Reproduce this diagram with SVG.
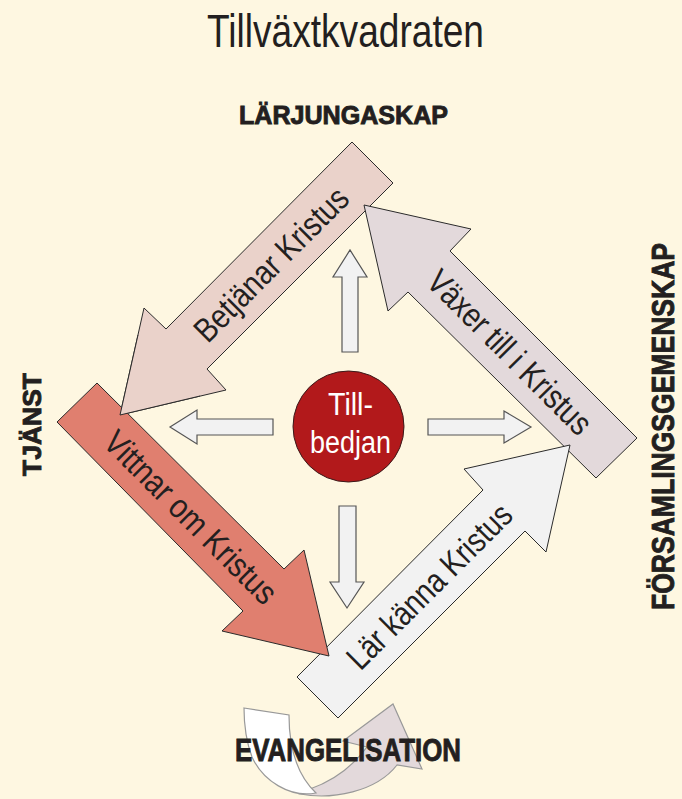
<svg xmlns="http://www.w3.org/2000/svg" width="682" height="799" viewBox="0 0 682 799">
<style>
.big{stroke:#2b2b2b;stroke-width:1;stroke-linejoin:miter}
.small{fill:#f2f2f2;stroke:#555;stroke-width:1.2}
.lbl{font-family:"Liberation Sans",Arial,sans-serif;font-size:34px;fill:#231f20;text-anchor:middle}
.cap{font-family:"Liberation Sans",Arial,sans-serif;font-weight:bold;fill:#231f20;stroke:#231f20;stroke-width:0.9}
.ct{font-family:"Liberation Sans",Arial,sans-serif;font-size:31px;fill:#fff;text-anchor:middle}
.rib{stroke:#999;stroke-width:1.2}
</style>
<rect width="682" height="799" fill="#fef7e1"/>
<text x="207" y="47" font-family="Liberation Sans, Arial, sans-serif" font-size="46" fill="#231f20" textLength="277" lengthAdjust="spacingAndGlyphs">Tillväxtkvadraten</text>

<g id="curved-arrow">
<path class="rib" fill="#e3d9db" d="M300,794 C332,800 376,792 397,765 L422,769 L393,704 L343,741 L367,747 C350,770 330,782 310,789 Z"/>
<path class="rib" fill="#ffffff" d="M244,708 L289,715 C289,748 298,776 316,793 C290,798 263,781 252,757 C246,741 244,725 244,708 Z"/>
</g>

<g id="connectors">
<g id="arrow-betjanar">
<polygon class="big" fill="#ead2ca" points="352,142 393,183 207,369 226,390 120,415 144,308 166,329"/>
<text class="lbl" transform="translate(271,264) rotate(-45)" y="12" textLength="203" lengthAdjust="spacingAndGlyphs">Betjänar Kristus</text>
</g>
<g id="arrow-vaxer">
<polygon class="big" fill="#e3d9db" points="637,438 450,251 471,229 364,205 388,311 408,292 596,478"/>
<text class="lbl" transform="translate(510,352) rotate(45)" y="12" textLength="217" lengthAdjust="spacingAndGlyphs">Växer till i Kristus</text>
</g>
<g id="arrow-larkanna">
<polygon class="big" fill="#f2f2f2" points="297,677 483,490 464,469 570,445 546,552 525,531 338,718"/>
<text class="lbl" transform="translate(429,586) rotate(-45)" y="12" textLength="218" lengthAdjust="spacingAndGlyphs">Lär känna Kristus</text>
</g>
<g id="arrow-vittnar">
<polygon class="big" fill="#e07f6f" points="97,383 284,569 304,550 329,656 222,631 243,611 57,422"/>
<text class="lbl" transform="translate(191,517) rotate(45)" y="12" textLength="229" lengthAdjust="spacingAndGlyphs">Vittnar om Kristus</text>
</g>
<g id="arrow-betjanar-tip">
<polygon fill="#ead2ca" points="138,335 120,415 200,396"/>
<polyline class="big" fill="none" points="138,335 120,415 200,396"/>
</g>
<g id="small-arrows">
<polygon class="small" points="342,352 342,277 333,277 350,250 367,277 358,277 358,352"/>
<polygon class="small" points="273,419 197,419 197,410 170,427 197,444 197,435 273,435"/>
<polygon class="small" points="428,419 504,419 504,411 531,427 504,443 504,435 428,435"/>
<polygon class="small" points="339,506 356,506 356,582 364,582 347,608 330,582 339,582"/>
</g>
</g>

<g id="node-tillbedjan">
<circle cx="348.5" cy="426.5" r="55.5" fill="#b2191b" stroke="#3a1a1a" stroke-width="1"/>
<text class="ct" x="350.5" y="415" textLength="45" lengthAdjust="spacingAndGlyphs">Till-</text>
<text class="ct" x="350.5" y="453" textLength="81" lengthAdjust="spacingAndGlyphs">bedjan</text>
</g>

<g id="label-larjungaskap">
<text class="cap" x="239" y="124" font-size="26" textLength="209" lengthAdjust="spacingAndGlyphs">LÄRJUNGASKAP</text>
</g>
<g id="label-tjanst">
<text class="cap" transform="translate(41,476) rotate(-90)" font-size="26" textLength="103" lengthAdjust="spacingAndGlyphs">TJÄNST</text>
</g>
<g id="label-forsamlingsgemenskap">
<text class="cap" transform="translate(674,610) rotate(-90)" font-size="32" textLength="367" lengthAdjust="spacingAndGlyphs">FÖRSAMLINGSGEMENSKAP</text>
</g>
<g id="label-evangelisation">
<text class="cap" x="235" y="761" font-size="32" textLength="226" lengthAdjust="spacingAndGlyphs">EVANGELISATION</text>
</g>
</svg>
